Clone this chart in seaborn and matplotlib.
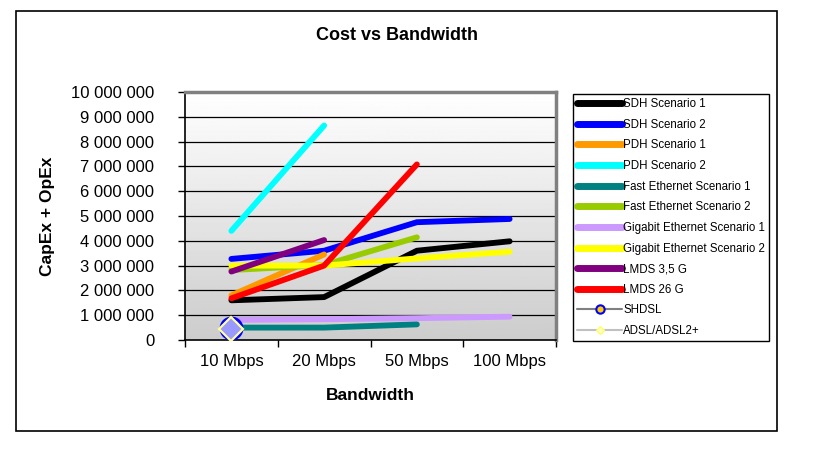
import numpy as np
import pandas as pd
import matplotlib
matplotlib.use("Agg")
import matplotlib.pyplot as plt
from matplotlib.lines import Line2D
from matplotlib.patches import Rectangle
from matplotlib.ticker import FuncFormatter, FixedLocator
import seaborn as sns

categories = ["10 Mbps", "20 Mbps", "50 Mbps", "100 Mbps"]

sdh_1 = [1600000, 1730000, 3600000, 3980000]
sdh_2 = [3270000, 3600000, 4750000, 4880000]
pdh_1 = [1800000, 3450000]
pdh_2 = [4400000, 8650000]
fe_1 = [500000, 500000, 630000]
fe_2 = [2820000, 3020000, 4140000]
ge_1 = [810000, 840000, 880000, 940000]
ge_2 = [3000000, 3000000, 3290000, 3560000]
lmds_35 = [2760000, 4030000]
lmds_26 = [1680000, 3000000, 7080000]
shdsl = [490000]
adsl = [450000]

series_names = ["SDH Scenario 1", "SDH Scenario 2", "PDH Scenario 1", "PDH Scenario 2",
                "Fast Ethernet Scenario 1", "Fast Ethernet Scenario 2",
                "Gigabit Ethernet Scenario 1", "Gigabit Ethernet Scenario 2",
                "LMDS 3,5 G", "LMDS 26 G"]
series_values = [sdh_1, sdh_2, pdh_1, pdh_2, fe_1, fe_2, ge_1, ge_2, lmds_35, lmds_26]
colors = ["#000000", "#0000ff", "#ff9900", "#00ffff", "#008080", "#99cc00",
          "#cc99ff", "#ffff00", "#800080", "#ff0000"]

rows = []
for name, vals in zip(series_names, series_values):
    for i, v in enumerate(vals):
        rows.append({"series": name, "x": i, "value": v})
df = pd.DataFrame(rows)

sns.set_theme(style="white")
plt.rcParams["font.family"] = ["Liberation Sans", "DejaVu Sans"]

fig = plt.figure(figsize=(8.13, 4.55), dpi=100)
W, H = 813, 455
ax = fig.add_axes([185 / W, 1 - 340 / H, (556 - 185) / W, (340 - 92) / H])

# gradient background
grad = np.linspace(0.80, 1.0, 256).reshape(-1, 1)
ax.imshow(grad, cmap="gray", vmin=0, vmax=1, aspect="auto", origin="lower",
          extent=[-0.5, 3.5, 0, 10000000], zorder=0)

for y in range(1000000, 10000001, 1000000):
    ax.axhline(y, color="black", lw=0.9, zorder=1)

palette = dict(zip(series_names, colors))
sns.lineplot(data=df, x="x", y="value", hue="series", palette=palette,
             hue_order=series_names, sort=False, lw=4.2, legend=False, ax=ax,
             zorder=3, solid_capstyle="round")
for ln in ax.get_lines():
    ln.set_solid_capstyle("round")

df_sh = pd.DataFrame({"x": [0], "value": shdsl})
df_ad = pd.DataFrame({"x": [0], "value": adsl})
sns.lineplot(data=df_sh, x="x", y="value", color="#808080", marker="o",
             markersize=15, markerfacecolor="#ffcc00", markeredgecolor="#0000ff",
             markeredgewidth=2.2, ax=ax, zorder=4)
sns.lineplot(data=df_ad, x="x", y="value", color="#c0c0c0", marker="D",
             markersize=12, markerfacecolor="#9999ff", markeredgecolor="#ffff99",
             markeredgewidth=1.6, ax=ax, zorder=5)

ax.set_xlim(-0.5, 3.5)
ax.set_ylim(0, 10000000)
ax.xaxis.set_major_locator(FixedLocator([-0.5, 0.5, 1.5, 2.5, 3.5]))
ax.xaxis.set_minor_locator(FixedLocator([0, 1, 2, 3]))
ax.set_xticklabels([])
ax.set_xticklabels(categories, minor=True)
ax.yaxis.set_major_locator(FixedLocator(list(range(0, 10000001, 1000000))))
ax.yaxis.set_major_formatter(FuncFormatter(lambda v, p: f"{int(v):,}".replace(",", " ")))
ax.tick_params(axis="x", which="major", direction="out", length=5, width=1, color="black", bottom=True)
ax.tick_params(axis="x", which="minor", length=0, pad=10, labelsize=12, labelcolor="black")
ax.tick_params(axis="y", which="major", direction="out", length=5, width=1, color="black",
               left=True, labelsize=12, labelcolor="black", pad=17)

for s in ["top", "right"]:
    ax.spines[s].set_color("#808080")
    ax.spines[s].set_linewidth(2.5)
for s in ["left", "bottom"]:
    ax.spines[s].set_color("black")
    ax.spines[s].set_linewidth(1.2)
ax.set_xlabel("Bandwidth", fontsize=12.5, fontweight="bold", color="black", labelpad=14)
ax.set_ylabel("CapEx + OpEx", fontsize=12.5, fontweight="bold", color="black", labelpad=12)
fig.text((316 + 478) / 2 / W, 1 - 35 / H, "Cost vs Bandwidth", ha="center", va="center",
         fontsize=13, fontweight="bold", color="black")

handles = [Line2D([0], [0], color=c, lw=5, solid_capstyle="round") for c in colors]
handles.append(Line2D([0], [0], color="#808080", lw=1.5, marker="o", markersize=6,
                      markerfacecolor="#ffcc00", markeredgecolor="#0000ff", markeredgewidth=1.5))
handles.append(Line2D([0], [0], color="#c0c0c0", lw=1.5, marker="D", markersize=4,
                      markerfacecolor="#ffffcc", markeredgecolor="#ffff66", markeredgewidth=1))
labels = series_names + ["SHDSL", "ADSL/ADSL2+"]
leg = fig.legend(handles, labels, loc="upper left", bbox_to_anchor=(573 / W, 1 - 94 / H),
                 bbox_transform=fig.transFigure, fontsize=8.3, frameon=True, fancybox=False,
                 handlelength=3.9, handletextpad=0.1, labelspacing=0.75, borderpad=0.35,
                 borderaxespad=0, framealpha=1)
leg.get_frame().set_edgecolor("black")
leg.get_frame().set_linewidth(1.0)
for t in leg.get_texts():
    t.set_color("black")

fig.patches.append(Rectangle((16 / W, 1 - 431 / H), (777 - 16) / W, (431 - 11) / H,
                             transform=fig.transFigure, fill=False, edgecolor="black", lw=1.2))

fig.savefig("out.png", dpi=100, facecolor="white")
